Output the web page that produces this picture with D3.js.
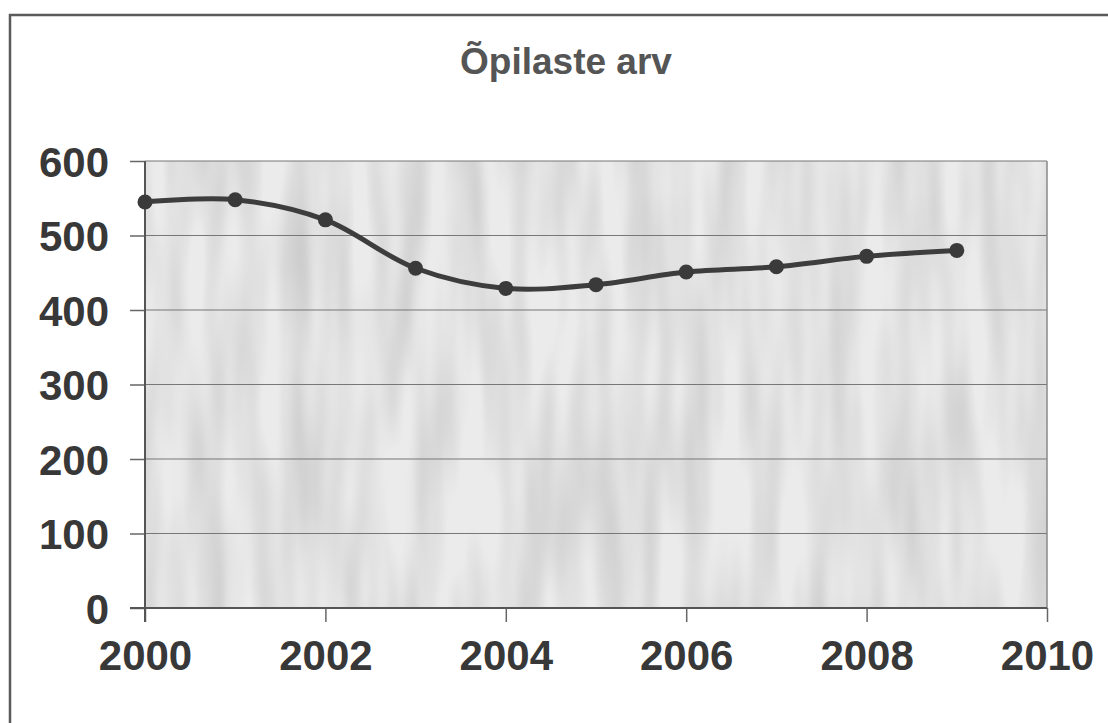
<!DOCTYPE html>
<meta charset="utf-8">
<style>
body { margin: 0; background: #fff; }
svg { font-family: "Liberation Sans", Arial, sans-serif; font-weight: bold; }
.axis path { display: none; }
.axis line { stroke: #666; stroke-width: 1.5; }
.axis text { fill: #383838; font-size: 42px; }
.grid line { stroke: #777; stroke-width: 1.2; }
</style>
<body>
<script src="https://cdn.jsdelivr.net/npm/d3@7"></script>
<script>
var years = [2000, 2001, 2002, 2003, 2004, 2005, 2006, 2007, 2008, 2009];
var pupils = [545, 548, 521, 456, 429, 434, 451, 458, 472, 480];
var xTicks = [2000, 2002, 2004, 2006, 2008, 2010];
var yTicks = [0, 100, 200, 300, 400, 500, 600];

var width = 1108, height = 723;
var plotL = 145, plotR = 1047, plotT = 161, plotB = 608;

var x = d3.scaleLinear().domain([2000, 2010]).range([plotL, plotR]);
var y = d3.scaleLinear().domain([0, 600]).range([plotB, plotT]);

var svg = d3.select("body").append("svg")
  .attr("width", width)
  .attr("height", height);

// texture for the plot area
var defs = svg.append("defs");
var f = defs.append("filter").attr("id", "tex")
  .attr("x", 0).attr("y", 0).attr("width", 1).attr("height", 1);
f.append("feTurbulence")
  .attr("type", "fractalNoise")
  .attr("baseFrequency", "0.035 0.005")
  .attr("numOctaves", 2)
  .attr("seed", 7);
f.append("feColorMatrix")
  .attr("type", "matrix")
  .attr("values", "0 0 0 0 0.6  0 0 0 0 0.6  0 0 0 0 0.6  1.8 0 0 0 -0.6");

// outer frame
svg.append("rect")
  .attr("x", 10).attr("y", 15)
  .attr("width", width + 20).attr("height", height + 20)
  .attr("fill", "none")
  .attr("stroke", "#5a5a5a")
  .attr("stroke-width", 2.5);

svg.append("text")
  .attr("x", 566).attr("y", 74)
  .attr("text-anchor", "middle")
  .attr("fill", "#555")
  .attr("font-size", 37)
  .text("Õpilaste arv");

svg.append("rect")
  .attr("x", plotL).attr("y", plotT)
  .attr("width", plotR - plotL).attr("height", plotB - plotT)
  .attr("fill", "#ebebeb");
svg.append("rect")
  .attr("x", plotL).attr("y", plotT)
  .attr("width", plotR - plotL).attr("height", plotB - plotT)
  .attr("fill", "#fff")
  .attr("filter", "url(#tex)");

// gridlines
svg.append("g")
  .attr("class", "grid")
  .selectAll("line")
  .data(yTicks)
  .enter().append("line")
  .attr("x1", plotL).attr("x2", plotR)
  .attr("y1", function(d) { return y(d); })
  .attr("y2", function(d) { return y(d); });

svg.append("line")
  .attr("x1", plotR).attr("x2", plotR)
  .attr("y1", plotT).attr("y2", plotB)
  .attr("stroke", "#888").attr("stroke-width", 1.5);

var yAxis = d3.axisLeft(y)
  .tickValues(yTicks)
  .tickSize(15)
  .tickPadding(21)
  .tickFormat(d3.format("d"));
svg.append("g")
  .attr("class", "axis")
  .attr("transform", "translate(" + plotL + ",0)")
  .call(yAxis)
  .selectAll("text").attr("dy", "0.36em");

var xAxis = d3.axisBottom(x)
  .tickValues(xTicks)
  .tickSize(14)
  .tickPadding(40)
  .tickFormat(d3.format("d"));
svg.append("g")
  .attr("class", "axis")
  .attr("transform", "translate(0," + plotB + ")")
  .call(xAxis)
  .selectAll("text").attr("dy", "0.2em");

svg.append("line")
  .attr("x1", plotL).attr("x2", plotL)
  .attr("y1", plotT).attr("y2", plotB + 14)
  .attr("stroke", "#555").attr("stroke-width", 2);
svg.append("line")
  .attr("x1", plotL - 15).attr("x2", plotR)
  .attr("y1", plotB).attr("y2", plotB)
  .attr("stroke", "#555").attr("stroke-width", 2);

var pts = years.map(function(d, i) { return [d, pupils[i]]; });

var line = d3.line()
  .x(function(d) { return x(d[0]); })
  .y(function(d) { return y(d[1]); })
  .curve(d3.curveCatmullRom.alpha(0.5));

svg.append("path")
  .datum(pts)
  .attr("fill", "none")
  .attr("stroke", "#3d3d3d")
  .attr("stroke-width", 5)
  .attr("d", line);

svg.append("g")
  .selectAll("circle")
  .data(pts)
  .enter().append("circle")
  .attr("cx", function(d) { return x(d[0]); })
  .attr("cy", function(d) { return y(d[1]); })
  .attr("r", 7.5)
  .attr("fill", "#3a3a3a");
</script>
</body>
